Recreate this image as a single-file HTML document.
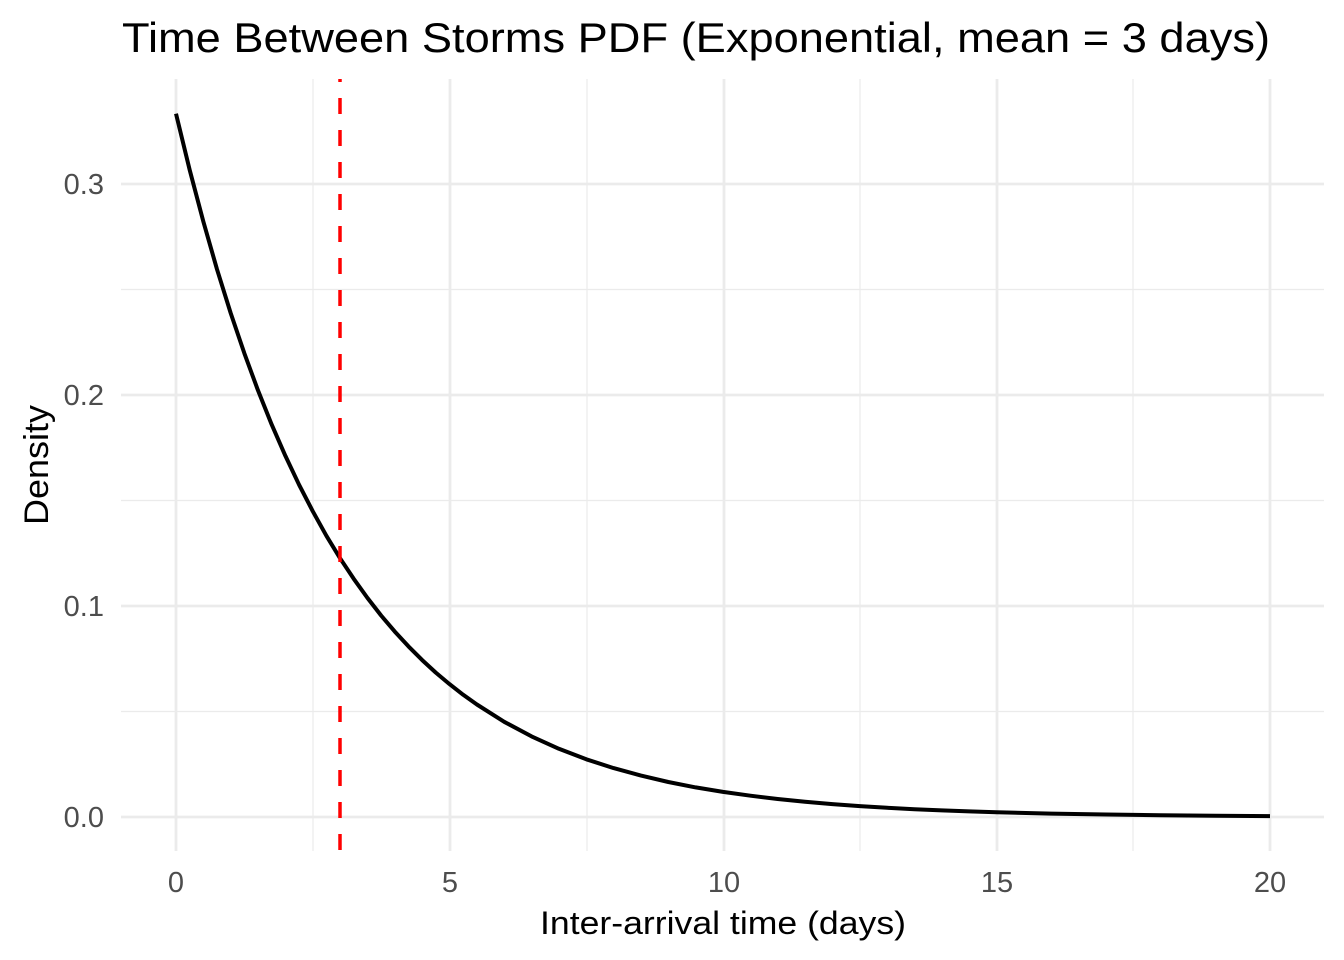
<!DOCTYPE html>
<html><head><meta charset="utf-8"><style>html,body{margin:0;padding:0;background:#fff}svg{display:block}</style></head>
<body>
<svg width="1344" height="960" xmlns="http://www.w3.org/2000/svg" font-family="'Liberation Sans', Arial, sans-serif">
<rect width="1344" height="960" fill="#fff"/>
<g stroke="#ebebeb" stroke-width="1.2">
<line x1="121" x2="1324" y1="711.5" y2="711.5"/><line x1="121" x2="1324" y1="500.5" y2="500.5"/><line x1="121" x2="1324" y1="289.5" y2="289.5"/>
<line y1="79" y2="851" x1="313" x2="313"/><line y1="79" y2="851" x1="587" x2="587"/><line y1="79" y2="851" x1="860" x2="860"/><line y1="79" y2="851" x1="1133" x2="1133"/>
</g>
<g stroke="#ebebeb" stroke-width="2.8">
<line x1="121" x2="1324" y1="817" y2="817"/><line x1="121" x2="1324" y1="606" y2="606"/><line x1="121" x2="1324" y1="395" y2="395"/><line x1="121" x2="1324" y1="184" y2="184"/>
<line y1="79" y2="851" x1="176" x2="176"/><line y1="79" y2="851" x1="450" x2="450"/><line y1="79" y2="851" x1="724" x2="724"/><line y1="79" y2="851" x1="997" x2="997"/><line y1="79" y2="851" x1="1270" x2="1270"/>
</g>
<polyline fill="none" stroke="#000" stroke-width="4" stroke-linejoin="round" points="176,113.7 189.7,170 203.4,221.7 217,269.3 230.7,313.1 244.4,353.4 258,390.4 271.7,424.6 285.4,455.9 299.1,484.8 312.8,511.3 326.4,535.8 340.1,558.3 353.8,578.9 367.5,598 381.1,615.5 394.8,631.6 408.5,646.4 422.2,660.1 435.8,672.6 449.5,684.1 463.2,694.8 476.9,704.5 504.2,721.8 531.6,736.4 558.9,748.8 586.3,759.3 613.6,768.1 641,775.6 668.3,782 695.7,787.4 723,791.9 750.4,795.7 777.7,799 805,801.7 832.4,804.1 859.8,806.1 887.1,807.8 914.5,809.2 941.8,810.4 969.2,811.4 996.5,812.3 1051.2,813.6 1105.9,814.5 1160.6,815.2 1215.3,815.7 1270,816.1"/>
<line x1="340" x2="340" y1="79" y2="851" stroke="#f00" stroke-width="3.5" stroke-dasharray="16 16" stroke-dashoffset="13"/>
<g fill="#4d4d4d" font-size="29" text-anchor="end">
<text x="104" y="827">0.0</text><text x="104" y="616">0.1</text><text x="104" y="405">0.2</text><text x="104" y="194">0.3</text>
</g>
<g fill="#4d4d4d" font-size="29" text-anchor="middle">
<text x="176" y="892">0</text><text x="450" y="892">5</text><text x="724" y="892">10</text><text x="997" y="892">15</text><text x="1270" y="892">20</text>
</g>
<text x="723" y="934" font-size="32" text-anchor="middle" fill="#000" textLength="366" lengthAdjust="spacingAndGlyphs">Inter-arrival time (days)</text>
<text transform="translate(48,465) rotate(-90)" font-size="34" text-anchor="middle" fill="#000" textLength="120" lengthAdjust="spacingAndGlyphs">Density</text>
<text x="122" y="52" font-size="42" fill="#000" textLength="1148" lengthAdjust="spacingAndGlyphs">Time Between Storms PDF (Exponential, mean = 3 days)</text>
</svg>
</body></html>
